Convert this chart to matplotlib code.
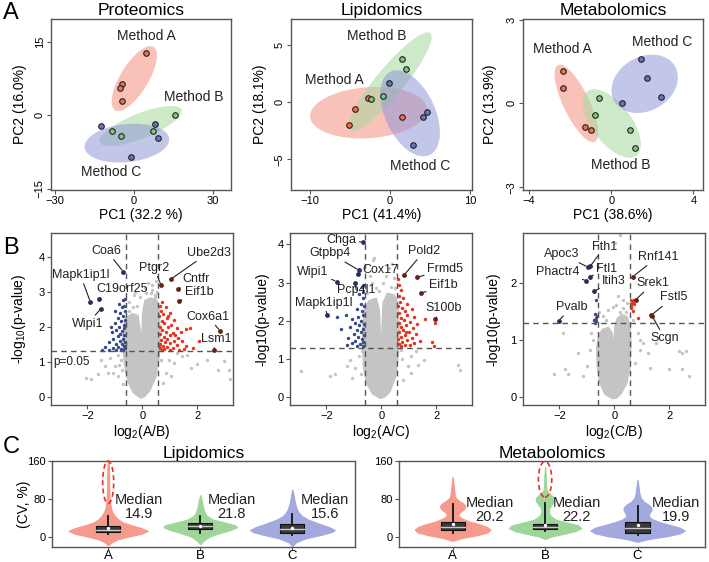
import numpy as np
import matplotlib
matplotlib.use("Agg")
import matplotlib.pyplot as plt
from matplotlib.patches import Ellipse, Rectangle
from matplotlib.transforms import ScaledTranslation

plt.rcParams['font.family'] = ['Liberation Sans', 'DejaVu Sans']
plt.rcParams['mathtext.default'] = 'regular'

# ---------------- A: PCA scores ----------------
prot_A = [(4.4, 12.7), (-4.4, 6.3), (-5.4, 5.5), (-4.4, 2.9)]
prot_B = [(15.5, 0.1), (7.2, -3.3), (-8.5, -3.3), (-5.1, -4.3)]
prot_C = [(-12.4, -2.3), (8.0, -1.7), (9.1, -4.7), (-1.3, -8.5)]
lip_A = [(-2.8, 0.35), (-4.4, -0.56), (-5.1, -1.96), (1.5, -1.26)]
lip_B = [(1.46, 3.8), (2.0, 2.9), (-0.83, 0.58), (-2.4, 0.29)]
lip_C = [(-0.12, 1.7), (4.1, -1.26), (4.6, -0.82), (2.9, -3.75)]
met_A = [(-2.36, 1.17), (-2.36, 0.54), (-1.3, -0.86), (-0.98, -0.96)]
met_B = [(-0.62, 0.2), (-0.78, -0.4), (0.9, -0.94), (1.14, -1.6)]
met_C = [(1.43, 1.6), (1.76, 0.9), (2.44, 0.22), (0.52, 0.02)]

# confidence ellipses: centre (data), width/height (px), angle (deg)
prot_ell = [(0.1, 7.5, 74, 28, 58.7), (2.5, -2.2, 88, 25, 21.8), (-2.7, -5.7, 85, 38, 6)]
lip_ell = [(-2.7, -0.92, 117, 51, 4), (0.0, 1.8, 126, 28, 50.4), (2.5, -0.97, 92, 50, -65)]
met_ell = [(-1.7, 0.0, 85, 26, -64.4), (0.03, -0.72, 81, 39, -52.7), (1.63, 0.7, 70, 54, 30)]

# ---------------- B: volcano plots ----------------
b1_cloud = [(-0.05, -0.01), (-0.29, 0.13), (-0.46, 0.39), (-0.58, 0.77), (-0.65, 1.25), (-0.66, 1.73),
            (-0.62, 2.06), (-0.55, 2.25), (-0.35, 2.34), (-0.19, 2.30), (-0.10, 1.82), (-0.06, 0.49),
            (-0.02, 0.49), (0.03, 1.82), (0.05, 2.39), (0.13, 2.73), (0.31, 2.79), (0.50, 2.73),
            (0.58, 2.49), (0.61, 1.82), (0.58, 1.15), (0.46, 0.58), (0.25, 0.20), (0.07, 0.03)]
b1_gray = [(-2.03, 0.53), (-1.85, 0.49), (-1.37, 0.87), (-1.49, 1.06), (-1.19, 1.11), (-1.01, 0.87),
           (-1.07, 0.68), (-0.89, 0.58), (-0.83, 0.91), (-0.77, 1.06), (-0.89, 1.2), (-1.25, 0.68),
           (-0.72, 0.75), (-0.7, 0.35), (-1.6, 0.65), (0.98, 1.06), (1.28, 1.25), (1.46, 1.15),
           (1.64, 1.2), (1.76, 0.82), (2.0, 0.92), (2.36, 1.06), (2.96, 1.01), (3.15, 0.77),
           (3.2, 0.49), (0.68, 1.06), (0.86, 0.68), (1.04, 0.58), (0.75, 0.4), (1.15, 0.95),
           (2.75, 0.76), (-0.3, 2.9), (0.1, 3.1), (0.5, 3.3), (0.3, 2.95), (-0.2, 2.6), (0.35, 3.05),
           (-0.35, 2.55), (-0.48, 2.7), (0.15, 2.95), (0.45, 2.92), (-0.1, 2.85), (0.55, 3.0),
           (0.35, 3.2), (-0.25, 3.0), (0.2, 3.25), (-0.5, 2.45), (0.45, 2.85)]
b1_blue = [(-0.63, 2.78), (-0.7, 2.75), (-0.66, 2.6), (-0.75, 2.55), (-0.64, 2.45), (-0.8, 2.4),
           (-0.7, 2.3), (-0.9, 2.25), (-0.63, 2.2), (-0.78, 2.15), (-1.0, 2.1), (-0.68, 2.05),
           (-0.85, 2.0), (-0.65, 1.95), (-0.95, 1.9), (-0.72, 1.88), (-1.1, 1.85), (-0.8, 1.8),
           (-0.66, 1.75), (-0.9, 1.72), (-1.05, 1.65), (-0.7, 1.65), (-0.82, 1.6), (-0.63, 1.55),
           (-1.2, 1.55), (-0.95, 1.5), (-0.75, 1.5), (-0.67, 1.45), (-1.35, 1.42), (-0.88, 1.42),
           (-1.05, 1.4), (-0.62, 1.38), (-0.78, 1.35), (-1.45, 1.32), (-1.2, 1.33), (-0.95, 1.33),
           (-0.7, 1.32), (-1.0, 2.45), (-0.85, 2.65), (-1.15, 2.0)]
b1_red = [(0.7, 2.7), (0.63, 2.6), (0.85, 2.55), (0.68, 2.45), (1.0, 2.4), (0.75, 2.35), (0.62, 2.3),
          (0.9, 2.25), (1.15, 2.2), (0.7, 2.15), (0.8, 2.1), (1.05, 2.05), (0.65, 2.0), (0.95, 1.98),
          (1.25, 1.95), (0.72, 1.9), (1.6, 1.93), (1.75, 1.95), (0.85, 1.85), (1.1, 1.82), (0.63, 1.78),
          (1.0, 1.75), (0.78, 1.7), (1.3, 1.68), (0.9, 1.65), (0.68, 1.62), (1.15, 1.6), (1.45, 1.58),
          (0.82, 1.55), (1.0, 1.52), (0.64, 1.5), (1.25, 1.48), (0.75, 1.45), (1.6, 1.45), (0.9, 1.42),
          (1.1, 1.4), (0.66, 1.38), (1.85, 1.38), (0.8, 1.35), (1.0, 1.33), (1.35, 1.33), (0.7, 1.32),
          (2.05, 1.6), (1.5, 1.35), (1.2, 1.75), (0.95, 2.3), (1.4, 1.85), (0.6, 1.45)]
b1_genes = ['Coa6', 'Mapk1ip1l', 'C19orf25', 'Wipi1', 'Ptgr2', 'Ube2d3', 'Cntfr', 'Eif1b', 'Cox6a1', 'Lsm1']
b1_gx = [-0.69, -1.89, -1.56, -1.5, 0.68, 1.04, 1.3, 1.33, 2.83, 2.6]
b1_gy = [3.57, 2.71, 2.8, 2.52, 3.19, 3.36, 3.07, 2.73, 1.88, 1.32]
b1_tx = [-1.29, -2.25, -0.74, -1.99, 0.43, 2.42, 1.97, 2.06, 2.39, 2.69]
b1_ty = [4.17, 3.48, 3.07, 2.08, 3.69, 4.12, 3.36, 2.98, 2.29, 1.65]

b2_cloud = [(-0.03, 0.0), (-0.29, 0.11), (-0.49, 0.37), (-0.61, 0.81), (-0.64, 1.34), (-0.63, 1.86),
            (-0.58, 2.29), (-0.42, 2.51), (-0.21, 2.56), (-0.11, 2.29), (-0.07, 1.68), (-0.04, 0.55),
            (0.01, 0.55), (0.06, 1.68), (0.10, 2.47), (0.24, 2.69), (0.44, 2.66), (0.56, 2.47),
            (0.61, 1.86), (0.59, 1.16), (0.49, 0.55), (0.28, 0.16), (0.10, 0.03)]
b2_gray = [(-2.91, 0.68), (-1.87, 0.55), (-1.7, 0.62), (-1.25, 0.81), (-1.13, 0.98), (-0.94, 0.77),
           (-0.82, 1.07), (-1.05, 0.5), (-0.75, 0.6), (-0.7, 1.2), (0.96, 0.81), (1.08, 1.07),
           (1.33, 0.85), (1.57, 0.98), (1.08, 0.64), (2.8, 0.85), (2.86, 0.72), (0.75, 1.0),
           (0.8, 0.45), (1.25, 1.2), (0.7, 1.25), (-0.29, 3.6), (0.28, 3.38), (-0.4, 3.17),
           (0.34, 2.9), (-0.1, 2.77), (-0.33, 2.99), (0.46, 3.12), (0.16, 3.17), (-0.51, 2.73),
           (-0.27, 3.64), (0.05, 3.0), (0.5, 2.85), (-0.2, 2.85), (0.4, 3.5)]
b2_blue = [(-0.62, 2.95), (-0.7, 2.88), (-0.65, 2.75), (-0.8, 2.7), (-0.68, 2.6), (-0.75, 2.45),
           (-0.63, 2.38), (-0.9, 2.3), (-0.7, 2.25), (-1.3, 2.15), (-0.65, 2.15), (-0.85, 2.1),
           (-1.05, 2.05), (-0.72, 2.0), (-0.95, 1.95), (-0.63, 1.92), (-0.8, 1.88), (-1.15, 1.85),
           (-0.68, 1.8), (-0.9, 1.75), (-0.75, 1.7), (-1.0, 1.65), (-0.63, 1.62), (-0.85, 1.58),
           (-1.2, 1.55), (-0.7, 1.52), (-0.95, 1.48), (-0.65, 1.45), (-1.05, 1.42), (-0.78, 1.4),
           (-1.25, 1.38), (-0.88, 1.35), (-0.66, 1.34), (-1.45, 1.8), (-1.6, 2.1)]
b2_red = [(0.62, 3.1), (0.65, 2.95), (0.7, 2.8), (0.63, 2.65), (0.8, 2.6), (0.68, 2.5), (0.95, 2.45),
          (0.62, 2.4), (0.75, 2.35), (1.1, 2.3), (0.85, 2.25), (0.65, 2.2), (0.95, 2.15), (1.2, 2.1),
          (0.7, 2.08), (0.82, 2.02), (1.05, 1.98), (0.64, 1.95), (1.3, 1.92), (0.9, 1.9), (0.72, 1.85),
          (1.15, 1.82), (1.6, 2.05), (1.95, 1.95), (0.8, 1.75), (1.0, 1.72), (0.66, 1.7), (1.25, 1.65),
          (0.88, 1.62), (0.7, 1.58), (1.1, 1.55), (0.62, 1.52), (0.95, 1.5), (1.4, 1.48), (0.75, 1.45),
          (1.2, 1.42), (0.65, 1.4), (0.85, 1.38), (1.05, 1.36), (0.72, 1.34), (1.85, 1.45), (1.9, 1.35),
          (0.9, 1.7)]
b2_genes = ['Chga', 'Gtpbp4', 'Cox17', 'Wipi1', 'Pcp4l1', 'Mapk1ip1l', 'Pold2', 'Frmd5', 'Eif1b', 'S100b']
b2_gx = [-0.66, -0.82, -0.86, -1.62, -0.95, -1.96, 0.83, 1.3, 1.45, 1.94]
b2_gy = [4.06, 3.33, 3.22, 3.03, 2.98, 2.15, 3.2, 3.14, 2.72, 2.04]
b2_tx = [-1.44, -1.87, -0.03, -2.48, -0.91, -2.11, 1.57, 2.31, 2.25, 2.28]
b2_ty = [4.12, 3.77, 3.33, 3.29, 2.81, 2.48, 3.83, 3.35, 2.94, 2.33]

b3_cloud = [(-0.05, -0.02), (-0.31, 0.05), (-0.48, 0.24), (-0.58, 0.54), (-0.60, 0.86), (-0.55, 1.05),
            (-0.41, 1.17), (-0.23, 1.20), (-0.12, 1.12), (-0.08, 0.95), (-0.06, 0.30), (-0.01, 0.30),
            (0.03, 1.00), (0.06, 1.24), (0.14, 1.37), (0.28, 1.43), (0.43, 1.40), (0.53, 1.27),
            (0.57, 0.95), (0.54, 0.54), (0.42, 0.24), (0.23, 0.07), (0.07, -0.01)]
b3_gray = [(-1.85, 1.12), (-1.79, 0.48), (-1.67, 0.39), (-1.13, 0.36), (-1.31, 0.77), (-0.89, 0.83),
           (-0.83, 1.12), (-0.77, 1.0), (-1.01, 0.54), (-2.2, 0.4), (0.85, 1.12), (0.92, 1.0),
           (1.04, 0.95), (1.22, 0.77), (1.51, 0.95), (2.36, 0.8), (2.48, 0.77), (2.6, 0.8),
           (2.72, 0.36), (2.48, 0.48), (1.99, 0.48), (0.92, 0.83), (0.67, 1.36), (0.75, 0.6),
           (1.3, 0.5), (0.13, 1.77), (0.31, 1.71), (0.07, 1.62), (-0.23, 1.53), (-0.05, 1.59),
           (0.31, 1.56), (0.2, 2.86), (0.02, 2.71), (-0.41, 1.42), (-0.55, 1.5), (0.43, 1.5),
           (0.45, 1.65), (-0.3, 1.35), (0.2, 1.5)]
b3_blue = [(-0.65, 1.71), (-0.71, 1.45), (-0.62, 1.42), (-0.73, 1.35), (-0.66, 1.33), (-0.65, 1.39), (-0.7, 1.3)]
b3_red = [(0.61, 1.71), (0.67, 1.68), (0.73, 1.71), (0.64, 1.66), (0.7, 1.64), (0.67, 1.52), (0.61, 1.56),
          (0.85, 1.38), (0.62, 1.6)]
b3_genes = ['Fth1', 'Apoc3', 'Ftl1', 'Phactr4', 'Itih3', 'Pvalb', 'Rnf141', 'Srek1', 'Fstl5', 'Scgn']
b3_gx = [-0.88, -0.97, -0.88, -1.02, -0.73, -2.02, 0.68, 0.78, 1.35, 1.38]
b3_gy = [2.3, 2.29, 2.12, 2.05, 1.86, 1.34, 2.12, 1.71, 1.44, 1.42]
b3_tx = [-0.34, -1.93, -0.28, -2.05, -0.01, -1.54, 1.59, 1.41, 2.15, 1.83]
b3_ty = [2.65, 2.52, 2.25, 2.2, 2.05, 1.58, 2.47, 2.0, 1.75, 1.03]

# ---------------- C: CV violins ----------------
groups = ['A', 'B', 'C']
lip_medians = ['14.9', '21.8', '15.6']
met_medians = ['20.2', '22.2', '19.9']
# violin outlines: CV level and half width
lip_vy = [[-18, -12, -6, 0, 6, 12, 18, 24, 30, 36, 44, 52, 60, 70, 80, 100, 130, 160],
          [-16, -8, 0, 8, 14, 20, 24, 30, 36, 44, 52, 62, 72, 80, 88],
          [-20, -12, -4, 4, 10, 14, 20, 28, 36, 44, 52, 60, 70, 80, 90, 100]]
lip_vw = [[0.0, 0.04, 0.1, 0.22, 0.36, 0.43, 0.36, 0.25, 0.16, 0.11, 0.07, 0.045, 0.03, 0.022, 0.016, 0.012, 0.01, 0.006],
          [0.0, 0.04, 0.1, 0.22, 0.33, 0.4, 0.38, 0.26, 0.14, 0.07, 0.045, 0.03, 0.02, 0.012, 0.0],
          [0.0, 0.04, 0.14, 0.32, 0.43, 0.46, 0.4, 0.28, 0.17, 0.1, 0.065, 0.045, 0.03, 0.02, 0.012, 0.0]]
met_vy = [[-9, -3, 3, 9, 15, 21, 27, 33, 40, 46, 52, 58, 64, 70, 76, 82, 90, 100, 112, 127],
          [-5, 0, 6, 12, 18, 24, 30, 36, 44, 52, 60, 68, 76, 82, 88, 94, 100, 115, 130, 149],
          [-11, -5, 1, 7, 13, 19, 25, 31, 37, 43, 50, 56, 62, 68, 74, 82, 92, 105, 121]]
met_vw = [[0.0, 0.1, 0.26, 0.38, 0.41, 0.37, 0.28, 0.17, 0.09, 0.06, 0.08, 0.12, 0.14, 0.12, 0.07, 0.035, 0.022, 0.016, 0.01, 0.0],
          [0.0, 0.06, 0.2, 0.33, 0.39, 0.36, 0.24, 0.12, 0.06, 0.04, 0.045, 0.07, 0.1, 0.1, 0.07, 0.035, 0.015, 0.01, 0.008, 0.0],
          [0.0, 0.12, 0.32, 0.46, 0.51, 0.46, 0.35, 0.24, 0.16, 0.12, 0.13, 0.15, 0.15, 0.12, 0.07, 0.035, 0.02, 0.012, 0.0]]
# box stats: q1, median, q3, lower whisker, upper whisker, mean
lip_box = [(10, 14.9, 22.6, 6, 43.5, 19), (15.8, 21.8, 29.7, 8.6, 43.5, 23), (8.6, 15.6, 26.8, 4.4, 48, 19)]
met_box = [(13.3, 21, 31, 8.5, 70, 27.5), (15.4, 20, 27.5, 12, 72, 25.7), (8.5, 18, 31, 3.4, 66, 24)]

# ---------------------------------------------------------------
fig = plt.figure(figsize=(7.09, 5.62), dpi=100)
W, H = 709, 562
EDGE = '#555555'


def add_ax(l, t, r, b):
    ax = fig.add_axes([l / W, 1 - b / H, (r - l) / W, (b - t) / H])
    for s in ax.spines.values():
        s.set_color(EDGE)
        s.set_linewidth(1.0)
    ax.tick_params(labelsize=8, length=3, width=0.8, color=EDGE, pad=1.5)
    return ax


pt_col = ['#f26d50', '#80c67a', '#6b74bd']
ell_col = ['#f4907e', '#a6d89c', '#9097d8']
mlabel_kw = dict(fontsize=10, ha='center', va='center', color='#222222')


def pca(ax, sets, ells, title, xl, yl, xlim, ylim, ticks_x, ticks_y, labels, ylab_x):
    ax.set_xlim(xlim)
    ax.set_ylim(ylim)
    for (cx, cy, w, h, ang), c in zip(ells, ell_col):
        tr = fig.dpi_scale_trans + ScaledTranslation(cx, cy, ax.transData)
        ax.add_patch(Ellipse((0, 0), w / 100, h / 100, angle=ang, transform=tr,
                             facecolor=c, edgecolor='none', alpha=0.55, zorder=1))
    for pts, c in zip(sets, pt_col):
        xs, ys = zip(*pts)
        ax.scatter(xs, ys, s=16, color=c, edgecolor='#222222', linewidth=0.8, zorder=3)
    for txt, x, y in labels:
        ax.text(x, y, txt, **mlabel_kw)
    ax.set_xticks(ticks_x)
    ax.set_yticks(ticks_y)
    ax.tick_params(axis='y', labelrotation=90)
    for lb in ax.get_yticklabels():
        lb.set_va('center')
    ax.set_title(title, fontsize=12.5, pad=3)
    ax.set_xlabel(xl, fontsize=10, labelpad=1)
    ax.set_ylabel(yl, fontsize=10)
    ax.yaxis.set_label_coords(ylab_x, 0.5)


ax = add_ax(51, 19, 231, 190)
pca(ax, [prot_A, prot_B, prot_C], prot_ell, 'Proteomics', 'PC1 (32.2 %)', 'PC2 (16.0%)',
    (-31.5, 36.8), (-15.3, 19.7), [-30, 0, 30], [-15, 0, 15],
    [('Method A', 4.7, 16.2), ('Method B', 22.8, 3.7), ('Method C', -8.6, -11.6)], -0.133)
ax = add_ax(291, 19, 472, 190)
pca(ax, [lip_A, lip_B, lip_C], lip_ell, 'Lipidomics', 'PC1 (41.4%)', 'PC2 (18.1%)',
    (-12.4, 10.25), (-7.7, 7.3), [-10, 0, 10], [-5, 0, 5],
    [('Method B', -1.66, 5.84), ('Method A', -6.96, 1.96), ('Method C', 3.75, -5.56)], -0.134)
ax = add_ax(523, 19, 703, 190)
pca(ax, [met_A, met_B, met_C], met_ell, 'Metabolomics', 'PC1 (38.6%)', 'PC2 (13.9%)',
    (-4.3, 4.47), (-3.1, 3.02), [-4, 0, 4], [-3, 0, 3],
    [('Method A', -2.36, 1.94), ('Method C', 2.47, 2.18), ('Method B', 0.44, -2.2)], -0.146)


def volcano(ax, cloud, gray, blue, red, genes, gx, gy, tx, ty, xl, yl, ylim, yt, ylab_x):
    ax.set_xlim(-3.32, 3.3)
    ax.set_ylim(ylim)
    cx, cy = zip(*cloud)
    ax.fill(cx, cy, facecolor='#c4c4c4', edgecolor='#c4c4c4', linewidth=2.5, zorder=1)
    for pts, c in [(gray, '#c4c4c4'), (blue, '#37498a'), (red, '#e8321c')]:
        xs, ys = zip(*pts)
        ax.scatter(xs, ys, s=6, color=c, linewidth=0, zorder=2)
    for x in (-0.585, 0.585):
        ax.axvline(x, color='#555555', ls=(0, (4, 3)), lw=1, zorder=4)
    ax.axhline(1.301, color='#555555', ls=(0, (4, 3)), lw=1, zorder=4)
    for g, x, y, a, b in zip(genes, gx, gy, tx, ty):
        col = '#262f5e' if x < 0 else '#6b1f14'
        ax.scatter([x], [y], s=12, color=col, linewidth=0, zorder=5)
        ax.annotate(g, (x, y), xytext=(a, b), fontsize=9, ha='center', va='center', color='#222222',
                    zorder=6, arrowprops=dict(arrowstyle='-', color='#222222', lw=0.8,
                                              shrinkA=0, shrinkB=1.5))
    ax.set_xticks([-2, 0, 2])
    ax.set_yticks(yt)
    ax.set_xlabel(xl, fontsize=10, labelpad=1)
    ax.set_ylabel(yl, fontsize=10)
    ax.yaxis.set_label_coords(ylab_x, 0.5)


ax = add_ax(51, 233, 233, 405)
volcano(ax, b1_cloud, b1_gray, b1_blue, b1_red, b1_genes, b1_gx, b1_gy, b1_tx, b1_ty,
        'log$_2$(A/B)', '-log$_{10}$(p-value)', (-0.24, 4.68), [0, 1, 2, 3, 4], -0.126)
ax.text(-3.22, 1.0, 'p=0.05', fontsize=8.5, ha='left', va='center', color='#222222')
ax = add_ax(290, 233, 472, 405)
volcano(ax, b2_cloud, b2_gray, b2_blue, b2_red, b2_genes, b2_gx, b2_gy, b2_tx, b2_ty,
        'log$_2$(A/C)', '-log10(p-value)', (-0.2, 4.3), [0, 1, 2, 3, 4], -0.115)
ax = add_ax(523, 233, 705, 405)
volcano(ax, b3_cloud, b3_gray, b3_blue, b3_red, b3_genes, b3_gx, b3_gy, b3_tx, b3_ty,
        'log$_2$(C/B)', '-log10(p-value)', (-0.15, 2.89), [0, 1, 2], -0.123)

vio_col = ['#f59a8c', '#9ed69a', '#a3a8de']


def violins(ax, vy, vw, boxes, medians, title, xlim, ylim, txt_dx, txt_y, tail):
    ax.set_xlim(xlim)
    ax.set_ylim(ylim)
    for i in range(3):
        y = np.array(vy[i], float)
        w = np.array(vw[i], float)
        ax.fill_betweenx(y, i - w, i + w, facecolor=vio_col[i], edgecolor=vio_col[i],
                         linewidth=0.8, zorder=1)
        q1, md, q3, lo, hi, mn = boxes[i]
        ax.plot([i, i], [q3, hi], color='#111111', lw=1.3, zorder=2)
        ax.plot([i, i], [lo, q1], color='#111111', lw=1.3, zorder=2)
        ax.add_patch(Rectangle((i - 0.13, q1), 0.26, q3 - q1, facecolor='#3a3a3a',
                               edgecolor='#111111', lw=0.8, zorder=3))
        ax.plot([i - 0.13, i + 0.13], [md, md], color='#c8c8c8', lw=1, zorder=4)
        ax.scatter([i], [mn], s=6, color='white', zorder=5, linewidth=0)
        ax.text(i + txt_dx[i], txt_y, 'Median\n' + medians[i], fontsize=10.5, ha='center',
                va='center', linespacing=0.95, color='#222222')
    ti, tc, tw, th = tail
    ax.add_patch(Ellipse((ti, tc), tw, th, facecolor='none', edgecolor='#e8321c',
                         ls=(0, (3, 2)), lw=1.2, zorder=6, clip_on=False))
    ax.set_xticks([0, 1, 2])
    ax.set_xticklabels(groups, fontsize=9.5)
    ax.tick_params(axis='x', length=2, pad=0.5)
    ax.set_yticks([0, 80, 160])
    ax.set_title(title, fontsize=12.5, pad=2)


ax = add_ax(52, 461, 355, 547)
violins(ax, lip_vy, lip_vw, lip_box, lip_medians, 'Lipidomics', (-0.61, 2.68), (-22, 160),
        [0.33, 0.34, 0.35], 63, (0, 115, 0.12, 90))
ax.set_ylabel('(CV, %)', fontsize=10)
ax.yaxis.set_label_coords(-0.069, 0.5)
ax = add_ax(399, 461, 705, 547)
violins(ax, met_vy, met_vw, met_box, met_medians, 'Metabolomics', (-0.58, 2.73), (-22, 161),
        [0.40, 0.34, 0.42], 57, (1, 122, 0.145, 76))

for letter, y in [('A', 13), ('B', 248), ('C', 447)]:
    fig.text(3 / W, 1 - y / H, letter, fontsize=17, ha='left', va='center')

fig.savefig('out.png', dpi=100)
